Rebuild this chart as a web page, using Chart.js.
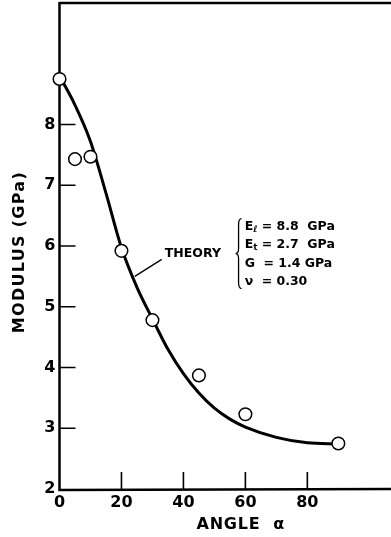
<!DOCTYPE html>
<html>
<head>
<meta charset="utf-8">
<script src="https://cdn.jsdelivr.net/npm/chart.js@4.4.1/dist/chart.umd.min.js"></script>
<style>
  body { margin: 0; background: #fff; }
  canvas { display: block; }
</style>
</head>
<body>
<canvas id="chart" width="391" height="537"></canvas>
<script>
// measured points
const testAngles = [0, 5, 10, 20, 30, 45, 60, 90];
const testModulus = [8.75, 7.43, 7.47, 5.92, 4.78, 3.87, 3.23, 2.75];

// theory curve
const theoryAngles = [0, 5, 10, 15, 20, 25, 30, 35, 40, 45, 50, 55, 60, 70, 80, 90];
const theoryModulus = [8.8, 8.32, 7.72, 6.87, 5.97, 5.32, 4.8, 4.3, 3.9, 3.58, 3.33, 3.15, 3.02, 2.85, 2.76, 2.74];

const xTicks = [0, 20, 40, 60, 80];
const yTicks = [2, 3, 4, 5, 6, 7, 8];

const params = [
    ['E', 'ℓ', ' = 8.8  GPa'],
    ['E', 't', ' = 2.7  GPa'],
    ['G', '', ' = 1.4 GPa'],
    ['ν', '', ' = 0.30']
];

const FONT = '"DejaVu Sans", sans-serif';

function toXY(xs, ys) {
    return xs.map((x, i) => ({x: x, y: ys[i]}));
}

const framePlugin = {
    id: 'frame',
    beforeDatasetsDraw(chart) {
        const ctx = chart.ctx, a = chart.chartArea;
        const xs = chart.scales.x, ys = chart.scales.y;
        ctx.save();
        ctx.strokeStyle = '#000';
        ctx.lineWidth = 2.5;
        ctx.beginPath();
        ctx.moveTo(a.left, a.top);
        ctx.lineTo(chart.width, a.top);
        ctx.moveTo(a.left, a.top - 1);
        ctx.lineTo(a.left, a.bottom + 1);
        ctx.lineTo(chart.width, a.bottom);
        ctx.stroke();

        // ticks pointing inward
        ctx.lineWidth = 1.6;
        ctx.beginPath();
        xTicks.forEach(v => {
            if (v === 0) return;
            const px = xs.getPixelForValue(v);
            ctx.moveTo(px, a.bottom);
            ctx.lineTo(px, a.bottom - 17);
        });
        yTicks.forEach(v => {
            if (v === 2) return;
            const py = ys.getPixelForValue(v);
            ctx.moveTo(a.left, py);
            ctx.lineTo(a.left + 16, py);
        });
        ctx.stroke();
        ctx.restore();
    },
    afterDraw(chart) {
        const ctx = chart.ctx, a = chart.chartArea;
        const xs = chart.scales.x, ys = chart.scales.y;
        ctx.save();
        ctx.fillStyle = '#000';
        ctx.strokeStyle = '#000';

        // axis titles
        ctx.font = 'bold 16px ' + FONT;
        ctx.textAlign = 'center';
        ctx.textBaseline = 'middle';
        ctx.letterSpacing = '0.8px';
        ctx.fillText('ANGLE  α', xs.getPixelForValue(58.5), 525);
        ctx.save();
        ctx.translate(20, ys.getPixelForValue(5.9));
        ctx.rotate(-Math.PI / 2);
        ctx.letterSpacing = '1.3px';
        ctx.fillText('MODULUS (GPa)', 0, 0);
        ctx.restore();
        ctx.letterSpacing = '0px';

        // THEORY label + leader
        ctx.font = 'bold 12.5px ' + FONT;
        ctx.textAlign = 'left';
        ctx.fillText('THEORY', xs.getPixelForValue(34), ys.getPixelForValue(5.88));
        ctx.lineWidth = 1.3;
        ctx.beginPath();
        ctx.moveTo(xs.getPixelForValue(33), ys.getPixelForValue(5.78));
        ctx.lineTo(xs.getPixelForValue(24.3), ys.getPixelForValue(5.5));
        ctx.stroke();

        // brace
        const bx = xs.getPixelForValue(57.8);
        const bt = ys.getPixelForValue(6.45), bb = ys.getPixelForValue(5.3);
        const bm = (bt + bb) / 2;
        ctx.lineWidth = 1.3;
        ctx.beginPath();
        ctx.moveTo(bx + 3, bt);
        ctx.quadraticCurveTo(bx, bt, bx, bt + 6);
        ctx.lineTo(bx, bm - 5);
        ctx.quadraticCurveTo(bx, bm, bx - 3, bm);
        ctx.quadraticCurveTo(bx, bm, bx, bm + 5);
        ctx.lineTo(bx, bb - 6);
        ctx.quadraticCurveTo(bx, bb, bx + 3, bb);
        ctx.stroke();

        // material parameters
        const tx = xs.getPixelForValue(59.8);
        const rows = [6.32, 6.02, 5.71, 5.41];
        params.forEach((p, i) => {
            const ty = ys.getPixelForValue(rows[i]);
            let x = tx;
            ctx.font = 'bold 12.5px ' + FONT;
            ctx.fillText(p[0], x, ty);
            x += ctx.measureText(p[0]).width;
            if (p[1]) {
                ctx.font = 'bold 9px ' + FONT;
                ctx.fillText(p[1], x, ty + 3);
            }
            x += 4;
            ctx.font = 'bold 12.5px ' + FONT;
            ctx.fillText(p[2], x, ty);
        });
        ctx.restore();
    }
};

new Chart(document.getElementById('chart'), {
    type: 'scatter',
    data: {
        datasets: [{
                label: 'test',
                data: toXY(testAngles, testModulus),
                pointRadius: 6.3,
                pointHoverRadius: 6.3,
                pointBackgroundColor: '#fff',
                pointBorderColor: '#000',
                pointBorderWidth: 1.5,
                order: 1,
                clip: false
            }, {
                label: 'theory',
                data: toXY(theoryAngles, theoryModulus),
                showLine: true,
                borderColor: '#000',
                borderWidth: 3,
                pointRadius: 0,
                cubicInterpolationMode: 'monotone',
                order: 2,
                clip: false
            }]
    },
    options: {
        responsive: false,
        animation: false,
        events: [],
        layout: {autoPadding: false, padding: {top: 3, left: 0, right: 0, bottom: 0}},
        plugins: {
            legend: {display: false},
            tooltip: {enabled: false}
        },
        scales: {
            x: {
                type: 'linear',
                min: 0,
                max: 107,
                grid: {display: false, drawTicks: false},
                border: {display: false},
                afterFit: s => {
                    s.height = 48;
                    s.paddingLeft = 0;
                    s.paddingRight = 0;
                },
                afterBuildTicks: s => { s.ticks = xTicks.map(v => ({value: v})); },
                ticks: {
                    padding: 4,
                    color: '#000',
                    font: {family: FONT, size: 16, weight: 'bold'}
                }
            },
            y: {
                type: 'linear',
                min: 2,
                max: 10,
                grid: {display: false, drawTicks: false},
                border: {display: false},
                afterFit: s => {
                    s.width = 59.5;
                    s.paddingTop = 0;
                    s.paddingBottom = 0;
                },
                afterBuildTicks: s => { s.ticks = yTicks.map(v => ({value: v})); },
                ticks: {
                    padding: 4,
                    color: '#000',
                    font: {family: FONT, size: 16, weight: 'bold'}
                }
            }
        }
    },
    plugins: [framePlugin]
});
</script>
</body>
</html>
